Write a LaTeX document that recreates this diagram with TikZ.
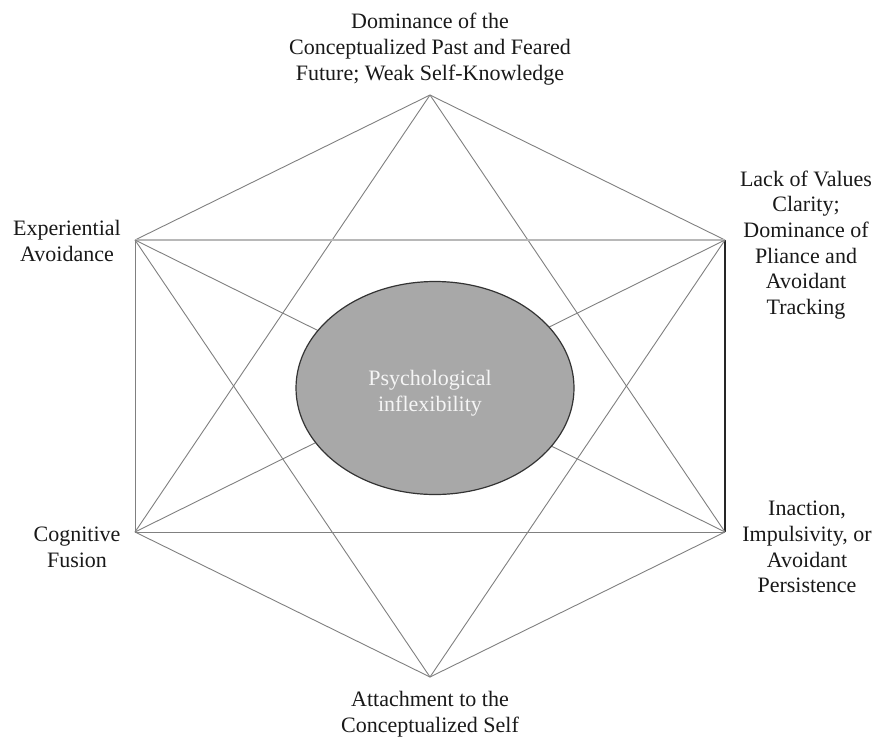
\documentclass[tikz,border=0pt]{standalone}
\usepackage{fontspec}
\setmainfont{Liberation Serif}
\usetikzlibrary{shapes.geometric}
\begin{document}
\begin{tikzpicture}[x=1pt,y=-1pt,
  lbl/.style={align=center,inner sep=0pt,text=black!90,font=\fontsize{22}{25.7}\selectfont},
  edge/.style={draw=black!50,line width=0.9pt},
  lightedge/.style={draw=black!28,line width=1.4pt},
  darkedge/.style={draw=black!85,line width=1.1pt},
  core/.style={ellipse,draw=black!80,line width=1.2pt,fill=black!34,minimum width=278pt,minimum height=213pt,inner sep=0pt}]
\useasboundingbox (0,0) rectangle (878,737);
\fill[white] (0,0) rectangle (878,737);
% vertices
\coordinate (T)  at (430,95);
\coordinate (UR) at (725,240);
\coordinate (LR) at (725,532);
\coordinate (B)  at (430,677);
\coordinate (LL) at (135,532);
\coordinate (UL) at (135,240);
% hexagon edges
\draw[edge] (T) -- (UR);
\draw[darkedge] (UR) -- (LR);
\draw[edge] (LR) -- (B);
\draw[edge] (B) -- (LL);
\draw[edge] (LL) -- (UL);
\draw[edge] (UL) -- (T);
% star and chords
\draw[edge] (T) -- (LL);
\draw[edge] (T) -- (LR);
\draw[edge] (B) -- (UL);
\draw[edge] (B) -- (UR);
\draw[lightedge] (UL) -- (UR);
\draw[edge] (LL) -- (LR);
\draw[edge] (UL) -- (LR);
\draw[edge] (UR) -- (LL);
% core
\node[core] (ell) at (435,388) {};
\node[lbl,text=black!4] (pi) at (430,393) {Psychological\\inflexibility};
% labels
\node[lbl] (lt) at (430,49) {Dominance of the\\Conceptualized Past and Feared\\Future; Weak Self-Knowledge};
\node[lbl] (lur) at (806,245) {Lack of Values\\Clarity;\\Dominance of\\Pliance and\\Avoidant\\Tracking};
\node[lbl] (llr) at (807,547) {Inaction,\\Impulsivity, or\\Avoidant\\Persistence};
\node[lbl] (lb) at (430,714) {Attachment to the\\Conceptualized Self};
\node[lbl] (lll) at (77,547) {Cognitive\\Fusion};
\node[lbl] (lul) at (67,241) {Experiential\\Avoidance};
\end{tikzpicture}
\end{document}
